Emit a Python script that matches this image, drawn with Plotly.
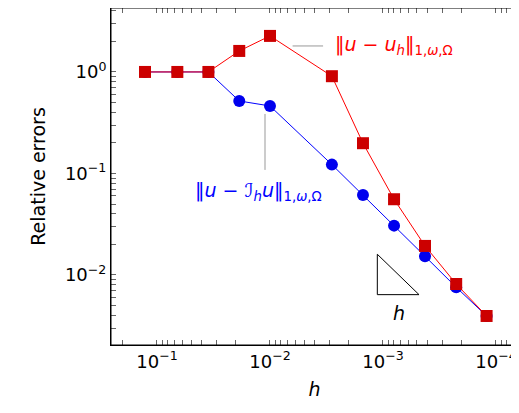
import plotly.graph_objects as go

h_log = [-0.894, -1.18, -1.455, -1.728, -2.0, -2.548, -2.823, -3.098, -3.372, -3.648, -3.917]
h = [10**v for v in h_log]
err_uh = [10**v for v in [0, 0, 0, 0.207, 0.355, -0.042, -0.702, -1.254, -1.714, -2.089, -2.404]]
err_Ih = [10**v for v in [0, 0, 0, -0.286, -0.335, -0.913, -1.212, -1.514, -1.816, -2.121, -2.404]]
x_major = [1e-1, 1e-2, 1e-3, 1e-4]
x_labels = ["10<sup>−1</sup>", "10<sup>−2</sup>", "10<sup>−3</sup>", "10<sup>−4</sup>"]
y_major = [1e-2, 1e-1, 1]
y_labels = ["10<sup>−2</sup>", "10<sup>−1</sup>", "10<sup>0</sup>"]

def with_minor(major, labels):
    vals, texts = [], []
    for m, t in zip(major, labels):
        vals.append(m); texts.append(t)
    decades = sorted(major)
    for d in [decades[0] / 10] + decades:
        for k in range(2, 10):
            vals.append(d * k); texts.append("")
    return vals, texts

xv, xt = with_minor(x_major, x_labels)
yv, yt = with_minor(y_major, y_labels)

fig = go.Figure()
fig.add_trace(go.Scatter(x=h, y=err_Ih, mode="lines+markers",
    line=dict(color="#0000ff", width=1), marker=dict(symbol="circle", size=12, color="#0000ee")))
fig.add_trace(go.Scatter(x=h, y=err_uh, mode="lines+markers",
    line=dict(color="#ff0000", width=1), marker=dict(symbol="square", size=12, color="#cc0000")))
tx = [10**-2.95, 10**-2.95, 10**-3.319, 10**-2.95]
ty = [10**-1.796, 10**-2.194, 10**-2.194, 10**-1.796]
fig.add_trace(go.Scatter(x=tx, y=ty, mode="lines", line=dict(color="black", width=1), hoverinfo="skip"))
fig.add_trace(go.Scatter(x=[10**-2.2, 10**-2.47], y=[10**0.256, 10**0.256], mode="lines",
    line=dict(color="#999999", width=1)))
fig.add_trace(go.Scatter(x=[10**-1.956, 10**-1.956], y=[10**-0.414, 10**-0.965], mode="lines",
    line=dict(color="#999999", width=1)))

font = "DejaVu Sans"
fig.add_annotation(x=-2.56, y=0.256, xref="x", yref="y", text="‖<i>u</i> − <i>u<sub>h</sub></i>‖<sub>1,<i>ω</i>,Ω</sub>",
    showarrow=False, xanchor="left", font=dict(color="#ff0000", size=19, family=font))
fig.add_annotation(x=-1.32, y=-1.18, xref="x", yref="y", text="‖<i>u</i> − ℐ<sub><i>h</i></sub><i>u</i>‖<sub>1,<i>ω</i>,Ω</sub>",
    showarrow=False, xanchor="left", font=dict(color="#0000ff", size=19, family=font))
fig.add_annotation(x=-3.14, y=-2.37, xref="x", yref="y", text="<i>h</i>",
    showarrow=False, font=dict(color="black", size=19, family=font))
fig.add_shape(type="rect", xref="paper", yref="paper", x0=0, x1=1, y0=0, y1=1,
              line=dict(color="black", width=1))

ax = dict(type="log", showgrid=False, ticks="inside", mirror="ticks", showline=True, automargin=False,
          linecolor="black", linewidth=1, zeroline=False, tickcolor="#666", ticklen=5,
          tickfont=dict(size=18, family=font, color="black"))
fig.update_layout(
    width=511, height=405, margin=dict(l=103, r=1, t=0, b=68),
    paper_bgcolor="white", plot_bgcolor="white", showlegend=False,
    xaxis=dict(ax, range=[-0.593, -4.195], tickvals=xv, ticktext=xt,
               title=dict(text="<i>h</i>", font=dict(size=19, family=font, color="black"), standoff=12)),
    yaxis=dict(ax, range=[-2.69, 0.63], tickvals=yv, ticktext=yt,
               title=dict(text="Relative errors", font=dict(size=19, family=font, color="black"), standoff=14)),
)
fig.write_html("out.html")
